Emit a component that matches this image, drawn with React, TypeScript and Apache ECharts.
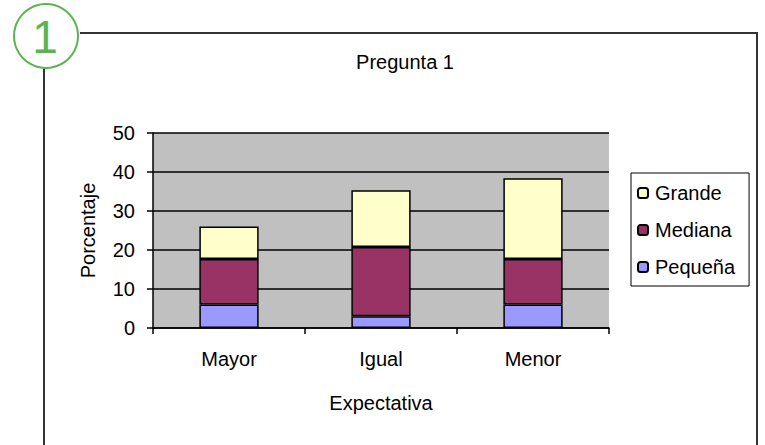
import React, { useEffect, useRef } from "react";
import * as echarts from "echarts";

const categories = ["Mayor", "Igual", "Menor"];
const pequena = [6, 3, 6];
const mediana = [11.7, 17.8, 11.7];
const grande = [8.3, 14.5, 20.7];
const seriesNames = ["Pequeña", "Mediana", "Grande"];
const legendOrder = ["Grande", "Mediana", "Pequeña"];
const colors = ["#9999FF", "#993366", "#FFFFCC"];
const chartTitle = "Pregunta 1";
const yName = "Porcentaje";
const xName = "Expectativa";

const FONT = "Liberation Sans, Arial, sans-serif";
const FS = 20;

export default function App() {
  const ref = useRef<HTMLDivElement>(null);
  useEffect(() => {
    if (!ref.current) return;
    const chart = echarts.init(ref.current, null, { renderer: "svg" });
    const values = [pequena, mediana, grande];
    chart.setOption({
      animation: false,
      backgroundColor: "#ffffff",
      textStyle: { fontFamily: FONT, color: "#000" },
      title: {
        text: chartTitle,
        left: 400,
        top: 46,
        textAlign: "center",
        textStyle: { fontFamily: FONT, fontSize: FS, lineHeight: 22, fontWeight: "normal", color: "#000" },
      },
      grid: {
        left: 153,
        right: 156,
        top: 133,
        bottom: 117,
        show: true,
        backgroundColor: "#C0C0C0",
        borderWidth: 0,
      },
      legend: {
        orient: "vertical",
        left: 631,
        top: 173,
        padding: [10, 14, 9, 6],
        backgroundColor: "#fff",
        borderColor: "#000",
        borderWidth: 1,
        itemWidth: 10,
        itemHeight: 10,
        itemGap: 17,
        data: legendOrder,
        textStyle: { fontFamily: FONT, fontSize: FS, lineHeight: 20, color: "#000", padding: [0, 0, 0, 2] },
      },
      xAxis: {
        type: "category",
        data: categories,
        name: xName,
        nameLocation: "middle",
        nameGap: 65,
        nameTextStyle: { fontFamily: FONT, fontSize: FS, color: "#000" },
        axisLine: { lineStyle: { color: "#000", width: 1.5 } },
        axisTick: { show: true, length: 6, lineStyle: { color: "#000", width: 1.5 } },
        axisLabel: { margin: 21, fontFamily: FONT, fontSize: FS, color: "#000" },
      },
      yAxis: {
        type: "value",
        min: 0,
        max: 50,
        interval: 10,
        name: yName,
        nameLocation: "middle",
        nameGap: 55,
        nameTextStyle: { fontFamily: FONT, fontSize: FS, color: "#000" },
        axisLine: { show: true, lineStyle: { color: "#000", width: 1.5 } },
        axisTick: { show: true, length: 6, lineStyle: { color: "#000", width: 1.5 } },
        axisLabel: { margin: 18, fontFamily: FONT, fontSize: FS, color: "#000" },
        splitLine: { show: true, lineStyle: { color: "#000", width: 1.5 } },
      },
      series: seriesNames.map((name, i) => ({
        name,
        type: "bar",
        stack: "total",
        barWidth: "39%",
        data: values[i],
        itemStyle: { color: colors[i], borderColor: "#000", borderWidth: 1.5 },
      })),
      graphic: [
        {
          type: "polyline",
          shape: { points: [[80, 33], [757, 33], [757, 450]] },
          style: { stroke: "#333", lineWidth: 2, fill: null },
          z: 10,
        },
        {
          type: "line",
          shape: { x1: 44, y1: 68, x2: 44, y2: 450 },
          style: { stroke: "#333", lineWidth: 2 },
          z: 10,
        },
        {
          type: "circle",
          shape: { cx: 46, cy: 36, r: 32 },
          style: { stroke: "#5BB450", lineWidth: 2, fill: "#fff" },
          z: 11,
        },
        {
          type: "text",
          x: 45,
          y: 37,
          style: {
            text: "1",
            fill: "#5BB450",
            fontSize: 46,
            fontFamily: FONT,
            align: "center",
            verticalAlign: "middle",
          },
          z: 12,
        },
      ],
    });
    return () => chart.dispose();
  }, []);
  return (
    <div
      ref={ref}
      style={{ position: "fixed", left: 0, top: 0, width: 765, height: 445 }}
    />
  );
}
